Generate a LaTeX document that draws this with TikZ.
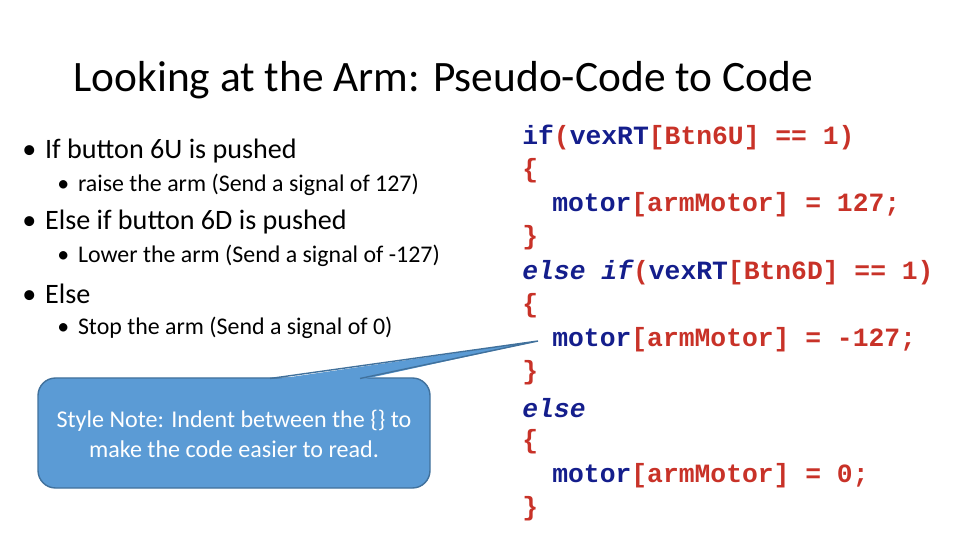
\documentclass[tikz,border=0pt]{standalone}
\usepackage{fontspec}
\setmainfont{Carlito}
\newfontfamily\codefont{Liberation Mono}
\usetikzlibrary{positioning}
\definecolor{kwblue}{RGB}{20,30,140}
\definecolor{cdred}{RGB}{200,50,40}
\definecolor{notefill}{RGB}{91,155,213}
\definecolor{noteline}{RGB}{65,113,156}
\newcommand{\kw}[1]{\textcolor{kwblue}{#1}}
\newcommand{\rd}[1]{\textcolor{cdred}{#1}}
\tikzset{
  bulletA/.style={anchor=west, inner sep=0pt, font=\fontsize{16}{18}\selectfont},
  bulletB/.style={anchor=west, inner sep=0pt, font=\fontsize{13.6}{16}\selectfont},
  codeline/.style={anchor=west, inner sep=0pt, font=\codefont\bfseries\fontsize{15}{17}\selectfont}
}
\begin{document}
\begin{tikzpicture}[x=0.02cm, y=-0.02cm]

  \useasboundingbox (0,0) rectangle (960,540);

  % title
  \node[anchor=west, inner sep=0pt, font=\fontsize{24.7}{28}\selectfont] (title) at (73,80) {Looking at the Arm: Pseudo-Code to Code};

  % bullets
  \node[bulletA] (b1) at (22,151) {\textbullet\hspace{5pt}If button 6U is pushed};
  \node[bulletB] (b1a) at (57,185) {\textbullet\hspace{5pt}raise the arm (Send a signal of 127)};
  \node[bulletA] (b2) at (22,222) {\textbullet\hspace{5pt}Else if button 6D is pushed};
  \node[bulletB] (b2a) at (57,256) {\textbullet\hspace{5pt}Lower the arm (Send a signal of -127)};
  \node[bulletA] (b3) at (22,294) {\textbullet\hspace{5pt}Else};
  \node[bulletB] (b3a) at (57,328) {\textbullet\hspace{5pt}Stop the arm (Send a signal of 0)};

  % code
  \node[codeline] (c1) at (522,137) {\kw{if}\rd{(}\kw{vexRT}\rd{[Btn6U] == 1)}};
  \node[codeline] (c2) at (522,171) {\rd{\{}};
  \node[codeline] (c3) at (552,205) {\kw{motor}\rd{[armMotor] = 127;}};
  \node[codeline] (c4) at (522,238) {\rd{\}}};
  \node[codeline] (c5) at (522,272) {\kw{\itshape else if}\rd{(}\kw{vexRT}\rd{[Btn6D] == 1)}};
  \node[codeline] (c6) at (522,306) {\rd{\{}};
  \node[codeline] (c7) at (552,340) {\kw{motor}\rd{[armMotor] = -127;}};
  \node[codeline] (c8) at (522,373) {\rd{\}}};
  \node[codeline] (c9) at (522,408) {\kw{\itshape else}};
  \node[codeline] (c10) at (522,442) {\rd{\{}};
  \node[codeline] (c11) at (552,476) {\kw{motor}\rd{[armMotor] = 0;}};
  \node[codeline] (c12) at (522,509) {\rd{\}}};

  % callout
  \coordinate (tip) at (538,341);
  \draw[fill=notefill, draw=noteline, rounded corners=10, line width=0.8pt] (38,378) rectangle (430,488);
  \fill[notefill] (270,380) -- (tip) -- (360,380) -- cycle;
  \draw[noteline, line width=0.8pt] (270,378.5) -- (tip) -- (360,378.5);
  \node[align=center, text=white, font=\fontsize{13.7}{17}\selectfont] (note) at (234,434) {Style Note: Indent between the \{\} to\\make the code easier to read.};

\end{tikzpicture}
\end{document}
